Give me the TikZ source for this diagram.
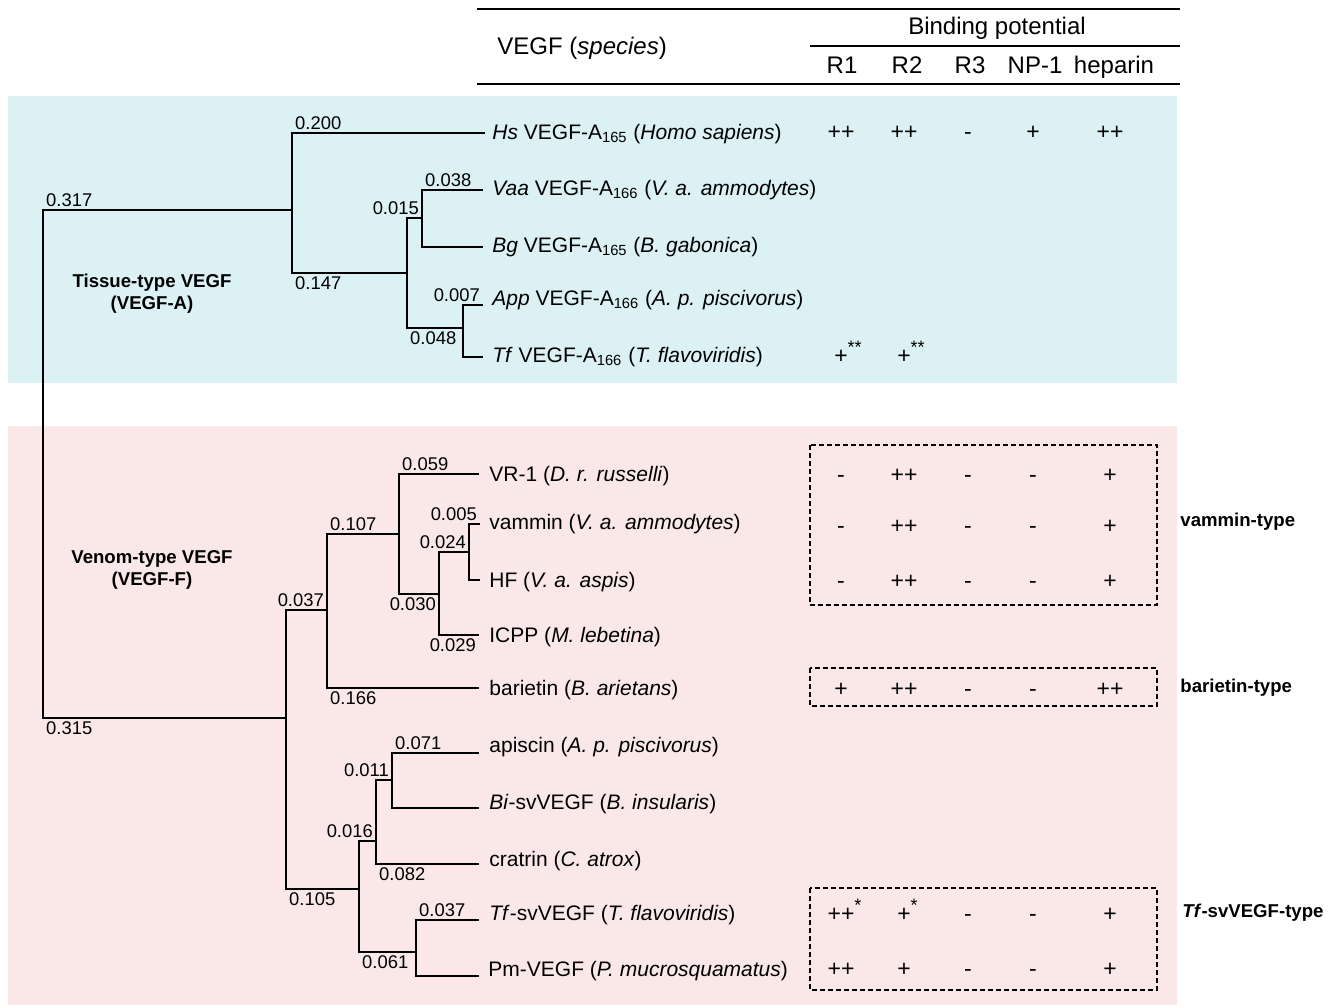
\documentclass[tikz,border=0pt]{standalone}
\usepackage{fontspec}
\setmainfont{Liberation Sans}

\definecolor{tissuebg}{HTML}{DCF1F3}
\definecolor{venombg}{HTML}{FAE8E9}

\newcommand{\bindnote}[1]{\rlap{\raisebox{0.4em}{\fontsize{9}{10}\selectfont #1}}}

\tikzset{
	leaf/.style={anchor=base west, inner sep=0pt, font=\fontsize{10.5}{12}\selectfont},
	blen/.style={inner sep=1pt, font=\fontsize{9.2}{11}\selectfont},
	head/.style={inner sep=0pt, anchor=base, font=\fontsize{12}{14}\selectfont},
	val/.style={inner sep=0pt, text height=8pt, text depth=0pt, font=\fontsize{11.5}{13}\selectfont},
	group/.style={inner sep=0pt, align=center, font=\bfseries\fontsize{9.3}{11}\selectfont},
	branch/.style={line width=1.2pt},
	rule/.style={line width=0.9pt},
	bindbox/.style={line width=1pt, dash pattern=on 2.5pt off 1.5pt}
}

\begin{document}
\begin{tikzpicture}[x=0.5pt, y=-0.5pt]
	\useasboundingbox (0,0) rectangle (1336,1007);
	% Shade the two groups
	\fill [tissuebg] (8,96) rectangle (1177,383);
	\fill [venombg] (8,426) rectangle (1177,1005);

	% Table head
	\draw [rule] (477,9) -- (1180,9);
	\draw [rule] (810,46) -- (1180,46);
	\draw [rule] (477,84) -- (1180,84);
	\node [head, anchor=west] (species) at (497,48) {VEGF (\textit{species})};
	\node [head] (binding) at (997,34) {Binding potential};
	\node [head] (r1) at (842,73) {R1};
	\node [head] (r2) at (907,73) {R2};
	\node [head] (r3) at (970,73) {R3};
	\node [head] (np1) at (1035,73) {NP-1};
	\node [head] (heparin) at (1114,73) {heparin};

	% Place nodes
	\node [group] (tissue) at (152,294) {Tissue-type VEGF\\(VEGF-A)};
	\node [group] (venom) at (152,570) {Venom-type VEGF\\(VEGF-F)};
	\node [leaf] (hs) at (492,139) {\textit{Hs} VEGF-A\textsubscript{165} (\textit{Homo sapiens})};
	\node [leaf] (vaa) at (492,195) {\textit{Vaa} VEGF-A\textsubscript{166} (\textit{V. a. ammodytes})};
	\node [leaf] (bg) at (492,252) {\textit{Bg} VEGF-A\textsubscript{165} (\textit{B. gabonica})};
	\node [leaf] (app) at (492,305) {\textit{App} VEGF-A\textsubscript{166} (\textit{A. p. piscivorus})};
	\node [leaf] (tf) at (492,362) {\textit{Tf} VEGF-A\textsubscript{166} (\textit{T. flavoviridis})};
	\node [leaf] (vr) at (489,481) {VR-1 (\textit{D. r. russelli})};
	\node [leaf] (vam) at (489,529) {vammin (\textit{V. a. ammodytes})};
	\node [leaf] (hf) at (489,587) {HF (\textit{V. a. aspis})};
	\node [leaf] (icpp) at (489,642) {ICPP (\textit{M. lebetina})};
	\node [leaf] (bar) at (489,695) {barietin (\textit{B. arietans})};
	\node [leaf] (api) at (489,752) {apiscin (\textit{A. p. piscivorus})};
	\node [leaf] (bi) at (489,809) {\textit{Bi}-svVEGF (\textit{B. insularis})};
	\node [leaf] (cra) at (489,866) {cratrin (\textit{C. atrox})};
	\node [leaf] (tfsv) at (489,920) {\textit{Tf}-svVEGF (\textit{T. flavoviridis})};
	\node [leaf] (pm) at (488,976) {Pm-VEGF (\textit{P. mucrosquamatus})};
	\node [group, anchor=west] (vammintype) at (1180,522) {vammin-type};
	\node [group, anchor=west] (barietintype) at (1180,688) {barietin-type};
	\node [group, anchor=west] (tftype) at (1182,913) {\textit{Tf}-svVEGF-type};

	% Binding values
	\foreach \row/\y in {{++,++,-,+,++}/131,
		{+\bindnote{**},+\bindnote{**}}/355,
		{-,++,-,-,+}/474, {-,++,-,-,+}/525, {-,++,-,-,+}/580,
		{+,++,-,-,++}/688,
		{++\bindnote{*},+\bindnote{*},-,-,+}/913,
		{++,+,-,-,+}/968} {
		\foreach \v [count=\c] in \row {
			\pgfmathsetmacro{\cx}{{841,904,968,1033,1110}[\c-1]}
			\node [val] (v\y-\c) at (\cx,\y) {\v};
		}
	}
	\draw [bindbox] (810,445) rectangle (1157,605);
	\draw [bindbox] (810,668) rectangle (1157,706);
	\draw [bindbox] (810,888) rectangle (1157,990);

	% Tree joints
	\coordinate (root) at (43,464);
	\coordinate (tis) at (292,210);
	\coordinate (tisb) at (407,273);
	\coordinate (vaabg) at (422,218);
	\coordinate (apptf) at (463,328);
	\coordinate (ven) at (286,718);
	\coordinate (vena) at (327,610);
	\coordinate (vrhf) at (399,534);
	\coordinate (hficpp) at (439,594);
	\coordinate (vamhf) at (469,552);
	\coordinate (venb) at (359,889);
	\coordinate (apicra) at (376,841);
	\coordinate (apibi) at (392,780);
	\coordinate (tfpm) at (416,952);
	% Leaf ends
	\coordinate (hs-end) at (485,133);
	\coordinate (vaa-end) at (483,190);
	\coordinate (bg-end) at (483,247);
	\coordinate (app-end) at (483,305);
	\coordinate (tf-end) at (483,357);
	\coordinate (vr-end) at (479,474);
	\coordinate (vam-end) at (480,524);
	\coordinate (hf-end) at (480,580);
	\coordinate (icpp-end) at (479,635);
	\coordinate (bar-end) at (479,688);
	\coordinate (api-end) at (479,753);
	\coordinate (bi-end) at (479,808);
	\coordinate (cra-end) at (479,864);
	\coordinate (tfsv-end) at (479,920);
	\coordinate (pm-end) at (479,976);

	% Draw edges
	\draw [branch] (root) |- (tis) node [blen, pos=0.5, anchor=south west] {0.317};
	\draw [branch] (root) |- (ven) node [blen, pos=0.5, anchor=north west] {0.315};
	\draw [branch] (tis) |- (hs-end) node [blen, pos=0.5, anchor=south west] {0.200};
	\draw [branch] (tis) |- (tisb) node [blen, pos=0.5, anchor=north west] {0.147};
	\draw [branch] (tisb) |- (vaabg) node [blen, pos=1, anchor=south east] {0.015};
	\draw [branch] (tisb) |- (apptf) node [blen, pos=0.5, anchor=north west] {0.048};
	\draw [branch] (vaabg) |- (vaa-end) node [blen, pos=0.5, anchor=south west] {0.038};
	\draw [branch] (vaabg) |- (bg-end);
	\draw [branch] (apptf) |- (app-end) node [blen, pos=1, anchor=south east] {0.007};
	\draw [branch] (apptf) |- (tf-end);
	\draw [branch] (ven) |- (vena) node [blen, pos=1, anchor=south east] {0.037};
	\draw [branch] (ven) |- (venb) node [blen, pos=0.5, anchor=north west] {0.105};
	\draw [branch] (vena) |- (vrhf) node [blen, pos=0.5, anchor=south west] {0.107};
	\draw [branch] (vena) |- (bar-end) node [blen, pos=0.5, anchor=north west] {0.166};
	\draw [branch] (vrhf) |- (vr-end) node [blen, pos=0.5, anchor=south west] {0.059};
	\draw [branch] (vrhf) |- (hficpp) node [blen, pos=1, anchor=north east] {0.030};
	\draw [branch] (hficpp) |- (vamhf) node [blen, pos=1, anchor=south east] {0.024};
	\draw [branch] (hficpp) |- (icpp-end) node [blen, pos=1, anchor=north east] {0.029};
	\draw [branch] (vamhf) |- (vam-end) node [blen, pos=1, anchor=south east] {0.005};
	\draw [branch] (vamhf) |- (hf-end);
	\draw [branch] (venb) |- (apicra) node [blen, pos=1, anchor=south east] {0.016};
	\draw [branch] (venb) |- (tfpm) node [blen, pos=0.5, anchor=north west] {0.061};
	\draw [branch] (apicra) |- (apibi) node [blen, pos=1, anchor=south east] {0.011};
	\draw [branch] (apicra) |- (cra-end) node [blen, pos=0.5, anchor=north west] {0.082};
	\draw [branch] (apibi) |- (api-end) node [blen, pos=0.5, anchor=south west] {0.071};
	\draw [branch] (apibi) |- (bi-end);
	\draw [branch] (tfpm) |- (tfsv-end) node [blen, pos=0.5, anchor=south west] {0.037};
	\draw [branch] (tfpm) |- (pm-end);
\end{tikzpicture}
\end{document}
